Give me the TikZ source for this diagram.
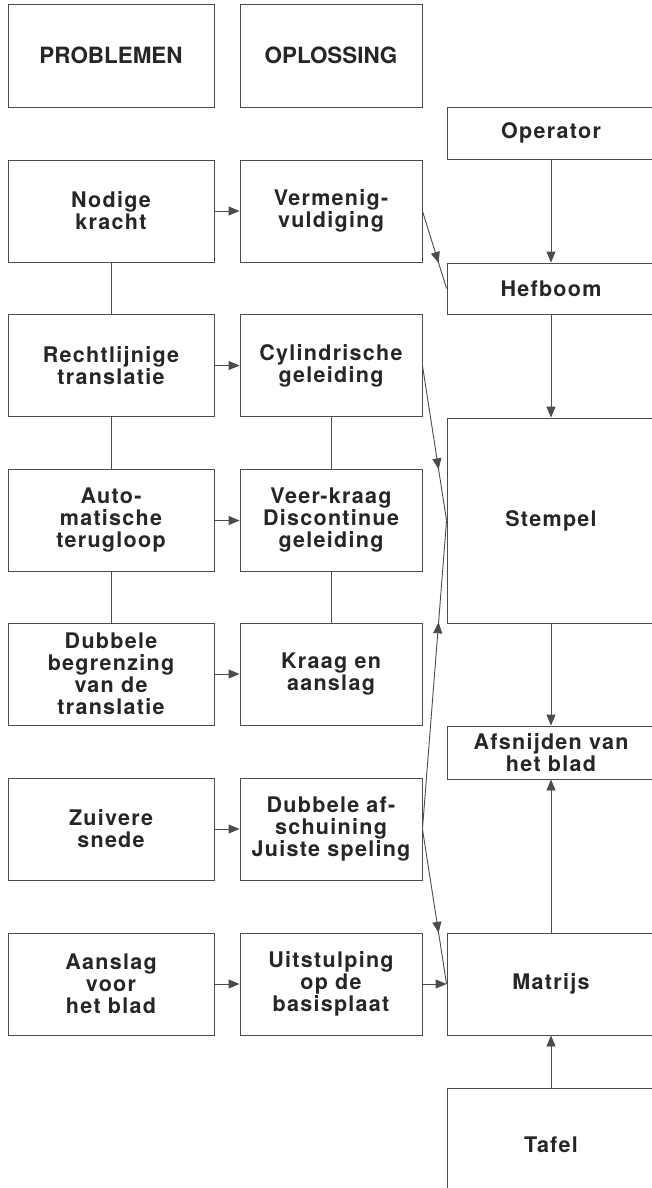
\documentclass[tikz,border=0pt]{standalone}
\usepackage{fontspec}
\setmainfont{TeX Gyre Heros}
\newfontfamily\vakfont{TeX Gyre Heros}[LetterSpace=6]
\usetikzlibrary{arrows.meta,decorations.markings}

\begin{document}
\begin{tikzpicture}[x=1pt, y=-1pt, line width=0.9pt,
		vak/.style={draw=black!70, text=black!85, align=center, inner sep=0pt,
			font=\vakfont\bfseries\fontsize{21.5}{22}\selectfont},
		kop/.style={vak, font=\bfseries\fontsize{22.4}{24}\selectfont},
		prob/.style={vak, minimum width=206pt, minimum height=102pt},
		opl/.style={vak, minimum width=182pt, minimum height=102pt},
		mach/.style={vak, minimum width=208pt},
		pijl/.style={draw=black!70, -{Triangle[length=11pt,width=9pt]}},
		lijn/.style={draw=black!70},
		midpijl/.style={draw=black!70, postaction={decorate},
			decoration={markings, mark=at position 0.67 with {\arrow{Triangle[length=11pt,width=9pt]}}}}]
	\clip (0,0) rectangle (652,1188);
	\fill[white] (0,0) rectangle (652,1188);

	% kolommen
	\node[kop, minimum width=206pt, minimum height=103pt] (kop1) at (111,55.5) {PROBLEMEN};
	\node[kop, minimum width=182pt, minimum height=103pt] (kop2) at (331,55.5) {OPLOSSING};

	\node[prob] (p1) at (111,211) {Nodige\\kracht};
	\node[prob] (p2) at (111,365.5) {Rechtlijnige\\translatie};
	\node[prob] (p3) at (111,520.5) {Auto-\\matische\\terugloop};
	\node[prob] (p4) at (111,674) {Dubbele\\begrenzing\\van de\\translatie};
	\node[prob] (p5) at (111,829) {Zuivere\\snede};
	\node[prob] (p6) at (111,984) {Aanslag\\voor\\het blad};

	\node[opl] (o1) at (331,211) {Vermenig-\\vuldiging};
	\node[opl] (o2) at (331,365.5) {Cylindrische\\geleiding};
	\node[opl] (o3) at (331,520.5) {Veer-kraag\\Discontinue\\geleiding};
	\node[opl] (o4) at (331,674) {Kraag en\\aanslag};
	\node[opl] (o5) at (331,829) {Dubbele af-\\schuining\\Juiste speling};
	\node[opl] (o6) at (331,984) {Uitstulping\\op de\\basisplaat};

	\node[mach, minimum height=52pt] (operator) at (551,133) {Operator};
	\node[mach, minimum height=51pt] (hefboom) at (551,288.5) {Hefboom};
	\node[mach, minimum height=205pt] (stempel) at (551,520.5) {Stempel};
	\node[mach, minimum height=53pt] (afsnijden) at (551,752.5) {Afsnijden van\\het blad};
	\node[mach, minimum height=102pt] (matrijs) at (551,984) {Matrijs};
	\node[mach, minimum height=114pt] (tafel) at (551,1145) {Tafel};

	% verbindingen
	\foreach \i in {1,...,6}
		\draw[pijl] (p\i) -- (o\i);
	\draw[lijn] (p1) -- (p2) (p2) -- (p3) (p3) -- (p4);
	\draw[lijn] (o2) -- (o3) (o3) -- (o4);

	\draw[pijl] (operator) -- (hefboom);
	\draw[pijl] (hefboom) -- (stempel);
	\draw[pijl] (stempel) -- (afsnijden);
	\draw[pijl] (matrijs) -- (afsnijden);
	\draw[pijl] (tafel) -- (matrijs);
	\draw[pijl] (o6) -- (matrijs);

	\draw[midpijl] (o1.east) -- (hefboom.west);
	\draw[midpijl] (o2.east) -- (stempel.west);
	\draw[midpijl] (o5.east) -- (stempel.west);
	\draw[midpijl] (o5.east) -- (matrijs.west);
\end{tikzpicture}
\end{document}
